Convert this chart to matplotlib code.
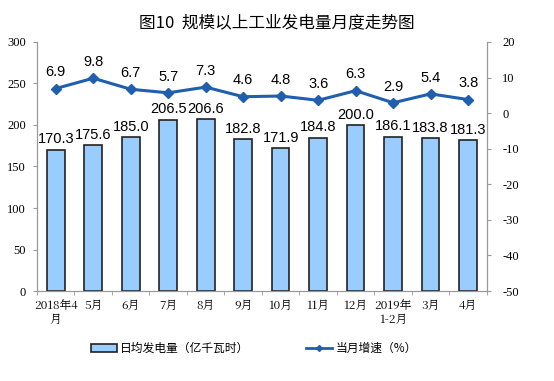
import matplotlib
matplotlib.use('Agg')
import matplotlib.pyplot as plt
from matplotlib.lines import Line2D
from matplotlib.patches import Patch
import numpy as np

plt.rcParams['font.family'] = ['Noto Sans CJK SC', 'DejaVu Sans']
plt.rcParams['axes.unicode_minus'] = False

# Dane
months = ['2018年4\n月', '5月', '6月', '7月', '8月', '9月', '10月', '11月',
          '12月', '2019年\n1-2月', '3月', '4月']
daily_output = [170.3, 175.6, 185.0, 206.5, 206.6, 182.8, 171.9, 184.8,
                200.0, 186.1, 183.8, 181.3]
growth = [6.9, 9.8, 6.7, 5.7, 7.3, 4.6, 4.8, 3.6, 6.3, 2.9, 5.4, 3.8]

bar_color = '#99CCFF'
line_color = '#1F5FAD'
spine_color = '#999999'

fig = plt.figure(figsize=(5.54, 3.81), dpi=100)
ax = fig.add_axes([0.0668, 0.236, 0.812, 0.654])
ax2 = ax.twinx()

x = np.arange(len(months))
ax.bar(x, daily_output, width=0.47, color=bar_color, edgecolor='#222222',
       linewidth=1.2, zorder=2)
for xi, v in zip(x, daily_output):
    ax.text(xi, v + 4, f'{v:.1f}', ha='center', va='bottom', fontsize=10.5,
            family='Liberation Sans')

ax2.plot(x, growth, color=line_color, linewidth=2.2, marker='D',
         markersize=5, zorder=3)
for xi, v in zip(x, growth):
    ax2.text(xi, v + 2.6, f'{v:.1f}', ha='center', va='bottom', fontsize=10.5,
             family='Liberation Sans')

ax.set_ylim(0, 300)
ax.set_yticks(range(0, 301, 50))
ax2.set_ylim(-50, 20)
ax2.set_yticks(range(-50, 21, 10))
ax.set_xlim(-0.5, len(months) - 0.5)
ax.set_xticks(x)
ax.set_xticklabels(months, fontsize=8.5, family=['Noto Serif CJK SC', 'Liberation Serif', 'Noto Sans CJK SC'])
ax.set_xticks(np.arange(-0.5, len(months), 1), minor=True)
ax.tick_params(axis='x', which='major', length=0, pad=6)
ax.tick_params(axis='x', which='minor', length=3, color=spine_color)

for a in (ax, ax2):
    a.spines['top'].set_visible(False)
    for s in ('left', 'right', 'bottom'):
        a.spines[s].set_color(spine_color)
    a.tick_params(axis='y', length=3, color=spine_color, labelsize=9)
    for lbl in a.get_yticklabels():
        lbl.set_family('Liberation Serif')
ax.tick_params(axis='y', pad=5)
ax2.tick_params(axis='y', pad=8)

fig.text(0.5, 0.94, '图10  规模以上工业发电量月度走势图', ha='center', va='center',
         fontsize=12)

handles = [Patch(facecolor=bar_color, edgecolor='#222222', linewidth=1.2),
           Line2D([0], [0], color=line_color, linewidth=2, marker='D', markersize=3)]
fig.legend(handles, ['日均发电量（亿千瓦时）', '当月增速（%）'], loc='center',
           bbox_to_anchor=(0.458, 0.085), ncol=2, frameon=False, fontsize=8.5,
           columnspacing=4.8, handlelength=2.2, handletextpad=0.3)

fig.savefig('out.png', dpi=100)
